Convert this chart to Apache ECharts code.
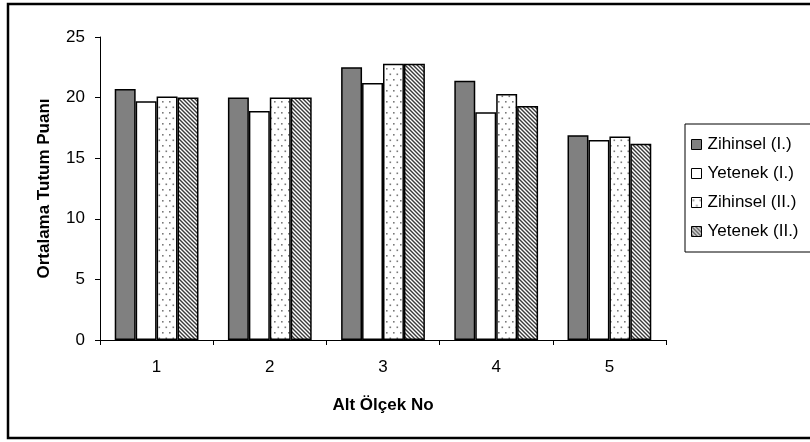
<!DOCTYPE html>
<html>
<head>
<meta charset="utf-8">
<script src="https://cdn.jsdelivr.net/npm/echarts@6/dist/echarts.min.js"></script>
<style>
  html, body { margin: 0; padding: 0; background: #fff; }
  #chart { width: 810px; height: 442px; }
</style>
</head>
<body>
<div id="chart"></div>
<script>
// Sub-scale numbers on the x axis
const categories = ['1', '2', '3', '4', '5'];

// Mean attitude scores per group
const zihinsel1 = [20.7, 20.0, 22.5, 21.4, 16.9];
const yetenek1  = [19.7, 18.9, 21.2, 18.8, 16.5];
const zihinsel2 = [20.1, 20.0, 22.8, 20.3, 16.8];
const yetenek2  = [20.0, 20.0, 22.8, 19.3, 16.2];

const seriesNames = ['Zihinsel (I.)', 'Yetenek (I.)', 'Zihinsel (II.)', 'Yetenek (II.)'];

const yTicks = { min: 0, max: 25, step: 5 };

// Fill patterns drawn on small tiles
function dotTile() {
  const c = document.createElement('canvas');
  c.width = 7; c.height = 11;
  const g = c.getContext('2d');
  g.fillStyle = '#ffffff';
  g.fillRect(0, 0, 7, 11);
  g.fillStyle = '#7a7a7a';
  g.fillRect(1, 2, 1.6, 1.6);
  g.fillRect(4.5, 7.5, 1.6, 1.6);
  return c;
}
function hatchTile() {
  const s = 4;
  const c = document.createElement('canvas');
  c.width = s; c.height = s;
  const g = c.getContext('2d');
  g.fillStyle = '#ffffff';
  g.fillRect(0, 0, s, s);
  g.strokeStyle = '#3a3a3a';
  g.lineWidth = 1.4;
  for (let k = -1; k <= 1; k++) {
    g.beginPath();
    g.moveTo(-2 + k * s, -2);
    g.lineTo(s + 2 + k * s, s + 2);
    g.stroke();
  }
  return c;
}

const fills = [
  '#808080',
  '#ffffff',
  { image: dotTile(), repeat: 'repeat' },
  { image: hatchTile(), repeat: 'repeat' }
];
const values = [zihinsel1, yetenek1, zihinsel2, yetenek2];

const font = 'Liberation Sans, Arial, sans-serif';

const chart = echarts.init(document.getElementById('chart'), null, { renderer: 'canvas' });

chart.setOption({
  animation: false,
  backgroundColor: '#ffffff',
  textStyle: { fontFamily: font, color: '#000' },
  grid: { left: 100, right: 144, top: 37, bottom: 102, containLabel: false },
  legend: {
    orient: 'vertical',
    left: 685,
    top: 124,
    width: 140,
    padding: [12, 14, 12, 6],
    itemGap: 12,
    itemWidth: 10,
    itemHeight: 10,
    icon: 'rect',
    borderColor: '#000',
    borderWidth: 1,
    backgroundColor: '#fff',
    itemStyle: { borderColor: '#000', borderWidth: 1 },
    textStyle: { fontFamily: font, fontSize: 17, color: '#000', padding: [0, 0, 0, 1] },
    data: seriesNames
  },
  xAxis: {
    type: 'category',
    data: categories,
    name: 'Alt Ölçek No',
    nameLocation: 'middle',
    nameGap: 57,
    nameTextStyle: { fontFamily: font, fontSize: 17, fontWeight: 'bold', color: '#000' },
    axisLine: { lineStyle: { color: '#000', width: 1 } },
    axisTick: { show: true, alignWithLabel: false, length: 5, lineStyle: { color: '#000' } },
    axisLabel: { fontFamily: font, fontSize: 17, color: '#000', margin: 19 },
    splitLine: { show: false }
  },
  yAxis: {
    type: 'value',
    min: yTicks.min,
    max: yTicks.max,
    interval: yTicks.step,
    name: 'Ortalama Tutum Puanı',
    nameLocation: 'middle',
    nameGap: 47,
    nameTextStyle: { fontFamily: font, fontSize: 17, fontWeight: 'bold', color: '#000' },
    axisLine: { show: true, lineStyle: { color: '#000', width: 1 } },
    axisTick: { show: true, length: 5, lineStyle: { color: '#000' } },
    axisLabel: { fontFamily: font, fontSize: 17, color: '#000', margin: 15 },
    splitLine: { show: false }
  },
  series: seriesNames.map((name, i) => ({
    name: name,
    type: 'bar',
    data: values[i],
    barGap: '0%',
    barCategoryGap: '26%',
    itemStyle: { color: fills[i], borderColor: '#000', borderWidth: 1.5 },
    emphasis: { disabled: true }
  })),
  graphic: [{
    type: 'rect',
    shape: { x: 8, y: 4, width: 840, height: 434 },
    style: { fill: 'none', stroke: '#000', lineWidth: 2.5 },
    silent: true,
    z: 100
  }]
});
</script>
</body>
</html>
